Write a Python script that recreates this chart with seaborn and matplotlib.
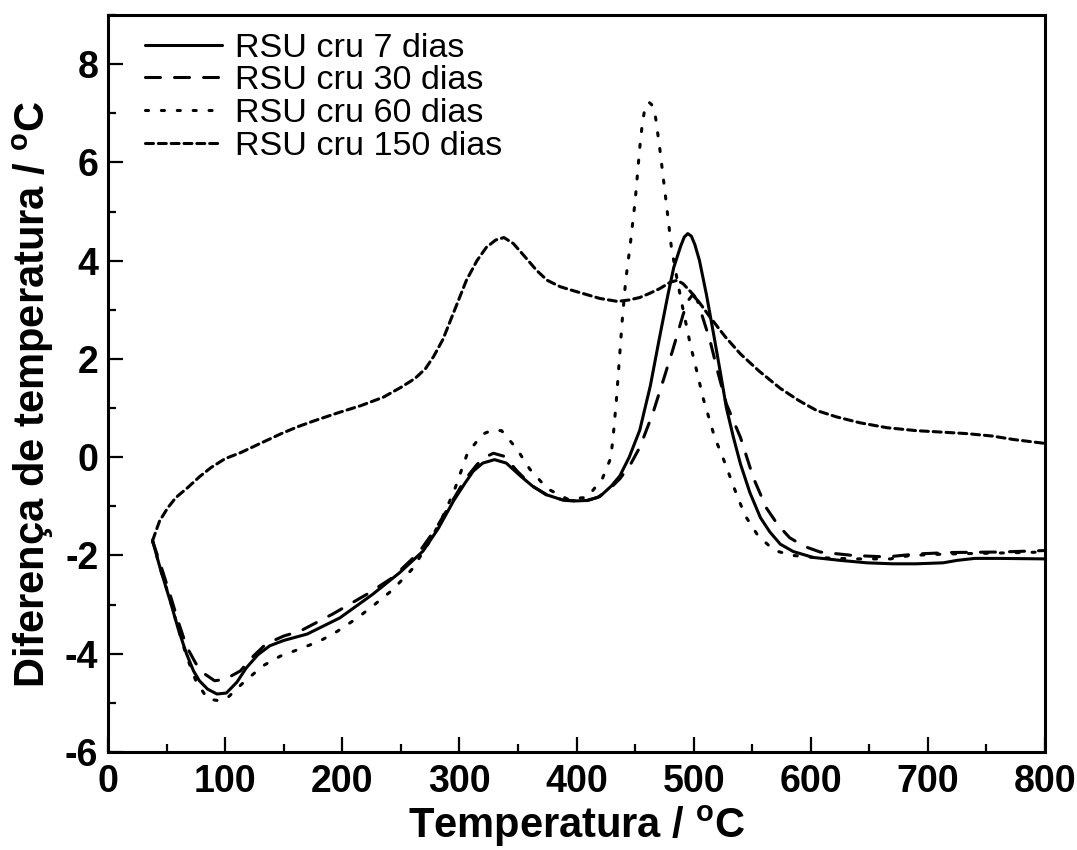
import numpy as np
import pandas as pd
import matplotlib
matplotlib.use("Agg")
import matplotlib.pyplot as plt
import seaborn as sns
from matplotlib.ticker import MultipleLocator

series_names = ["RSU cru 7 dias", "RSU cru 30 dias", "RSU cru 60 dias", "RSU cru 150 dias"]

x7 = [38, 45, 53, 60, 67, 73, 78, 85, 93, 101, 110, 118, 128, 138, 150, 170, 198, 226, 249, 269,
      282, 295, 305, 312, 320, 330, 340, 352, 363, 375, 388, 400, 410, 420, 430, 437, 445, 454,
      463, 471, 478, 483, 489, 492, 495, 498, 501, 505, 511, 517, 523, 528, 534, 540, 548, 557,
      565, 574, 585, 602, 625, 648, 670, 690, 713, 725, 740, 760, 800]
y7 = [-1.7, -2.3, -2.92, -3.5, -4.0, -4.35, -4.55, -4.72, -4.82, -4.8, -4.58, -4.29, -4.02, -3.84,
      -3.73, -3.6, -3.27, -2.79, -2.35, -1.91, -1.45, -0.89, -0.52, -0.28, -0.12, -0.05, -0.12,
      -0.38, -0.6, -0.77, -0.87, -0.89, -0.88, -0.8, -0.58, -0.38, 0.0, 0.55, 1.45, 2.45, 3.3,
      3.86, 4.3, 4.48, 4.55, 4.5, 4.33, 4.0, 3.3, 2.51, 1.7, 1.0, 0.4, -0.14, -0.72, -1.23,
      -1.52, -1.77, -1.92, -2.04, -2.1, -2.15, -2.17, -2.17, -2.15, -2.1, -2.06, -2.06, -2.07]

x30 = [38, 45, 53, 60, 67, 75, 83, 91, 100, 113, 124, 135, 150, 164, 192, 221, 243, 265, 280,
       295, 305, 315, 322, 329, 338, 350, 362, 375, 390, 405, 418, 428, 437, 446, 454, 465, 474,
       482, 491, 495, 499, 503, 507, 514, 521, 528, 540, 551, 562, 572, 582, 595, 608, 636, 665,
       690, 719, 762, 800]
y30 = [-1.7, -2.2, -2.8, -3.35, -3.85, -4.2, -4.42, -4.55, -4.52, -4.35, -4.05, -3.8, -3.64,
       -3.54, -3.19, -2.79, -2.45, -1.95, -1.45, -0.85, -0.45, -0.15, 0.0, 0.08, 0.02, -0.3,
       -0.58, -0.78, -0.88, -0.9, -0.82, -0.65, -0.44, -0.15, 0.2, 0.88, 1.56, 2.17, 2.9, 3.18,
       3.3, 3.2, 2.9, 2.37, 1.7, 1.08, 0.4, -0.42, -1.03, -1.38, -1.64, -1.82, -1.93, -2.0,
       -2.03, -1.97, -1.94, -1.93, -1.9]

x60 = [38, 45, 53, 60, 67, 75, 85, 93, 101, 115, 132, 147, 164, 181, 196, 213, 226, 243, 260,
       275, 285, 295, 307, 320, 328, 336, 349, 360, 375, 392, 409, 422, 429, 431, 434, 436.5,
       439, 442, 446, 450, 454, 456, 458, 460, 462, 464, 467, 471, 477, 481, 486, 490, 497, 504,
       508, 518, 525, 537, 544, 555, 569, 585, 602, 636, 668, 685, 716, 762, 800]
y60 = [-1.7, -2.3, -2.9, -3.5, -4.05, -4.55, -4.92, -4.95, -4.92, -4.6, -4.25, -4.05, -3.9,
       -3.74, -3.54, -3.27, -3.03, -2.7, -2.27, -1.7, -1.25, -0.72, 0.09, 0.47, 0.55, 0.54, 0.17,
       -0.24, -0.64, -0.85, -0.82, -0.44, -0.03, 0.34, 1.15, 1.96, 2.78, 3.6, 4.35, 5.2, 6.3,
       6.75, 7.05, 7.2, 7.22, 7.18, 7.0, 6.3, 5.1, 4.27, 3.6, 3.12, 2.31, 1.62, 1.21, 0.4, -0.01,
       -0.78, -1.19, -1.6, -1.9, -2.0, -2.04, -2.07, -2.07, -2.0, -1.97, -1.95, -1.93]

x150 = [38, 44, 51, 58, 68, 78, 88, 100, 113, 130, 148, 162, 176, 196, 216, 235, 250, 262, 271,
        278, 286, 296, 306, 315, 323, 331, 338, 346, 357, 366, 375, 386, 397, 410, 420, 435, 445,
        454, 462, 471, 480, 486, 491, 500, 507, 514, 527, 540, 556, 574, 590, 605, 622, 642, 665,
        690, 712, 733, 755, 773, 800]
y150 = [-1.7, -1.3, -1.03, -0.82, -0.62, -0.4, -0.21, -0.03, 0.09, 0.28, 0.48, 0.62, 0.74, 0.9,
        1.05, 1.22, 1.42, 1.6, 1.8, 2.05, 2.4, 3.0, 3.6, 4.0, 4.27, 4.42, 4.47, 4.35, 4.05, 3.8,
        3.6, 3.47, 3.39, 3.3, 3.23, 3.17, 3.2, 3.25, 3.33, 3.43, 3.56, 3.6, 3.53, 3.3, 3.08, 2.85,
        2.45, 2.1, 1.75, 1.4, 1.15, 0.95, 0.82, 0.7, 0.6, 0.54, 0.51, 0.48, 0.43, 0.36, 0.28]

xs_all = [x7, x30, x60, x150]
ys_all = [y7, y30, y60, y150]

frames = []
for name, xs, ys in zip(series_names, xs_all, ys_all):
    frames.append(pd.DataFrame({"T": xs, "dT": ys, "serie": name}))
df = pd.concat(frames, ignore_index=True)

dash_map = {
    "RSU cru 7 dias": "",
    "RSU cru 30 dias": (4.9, 4.6),
    "RSU cru 60 dias": (1.0, 4.2),
    "RSU cru 150 dias": (2.6, 1.6),
}

sns.set_style("ticks")
plt.rcParams["font.family"] = ["Liberation Sans", "DejaVu Sans"]
plt.rcParams["mathtext.fontset"] = "custom"
plt.rcParams["mathtext.rm"] = "Liberation Sans"
plt.rcParams["mathtext.bf"] = "Liberation Sans:bold"
plt.rcParams["mathtext.it"] = "Liberation Sans:italic"
plt.rcParams["axes.unicode_minus"] = False
for key in ["text.color", "axes.labelcolor", "xtick.color", "ytick.color", "axes.edgecolor"]:
    plt.rcParams[key] = "black"

LW = 2.2
fig = plt.figure(figsize=(10.77, 8.5), dpi=100)
ax = fig.add_axes([0.1003, 0.1153, 0.8700, 0.8671])

sns.lineplot(data=df, x="T", y="dT", style="serie", style_order=series_names,
             dashes=dash_map, color="black", linewidth=LW, estimator=None,
             sort=False, ax=ax, legend=True)

for line in ax.get_lines():
    line.set_dash_capstyle("round")

ax.set_xlim(0, 800)
ax.set_ylim(-6, 9)
ax.xaxis.set_major_locator(MultipleLocator(100))
ax.xaxis.set_minor_locator(MultipleLocator(50))
ax.yaxis.set_major_locator(MultipleLocator(2))
ax.yaxis.set_minor_locator(MultipleLocator(1))
ax.tick_params(which="both", direction="in", top=False, right=False, width=1.6, colors="black")
ax.tick_params(which="major", length=11, labelsize=27)
ax.tick_params(axis="y", which="major", pad=7)
ax.tick_params(axis="x", which="major", pad=9)
ax.tick_params(which="minor", length=5.5)
for lab in ax.get_xticklabels() + ax.get_yticklabels():
    lab.set_fontweight("bold")
for sp in ax.spines.values():
    sp.set_linewidth(2.2)
    sp.set_color("black")
    sp.set_visible(True)

ax.set_xlabel(r"Temperatura / $^{\mathbf{o}}$C", fontsize=30, fontweight="bold")
ax.set_ylabel(r"Diferença de temperatura / $^{\mathbf{o}}$C", fontsize=30, fontweight="bold")
ax.xaxis.set_label_coords(0.5, -0.070)
ax.yaxis.set_label_coords(-0.056, 0.485)

old = ax.get_legend()
handles = list(old.legend_handles)
labels = [t.get_text() for t in old.texts]
old.remove()
for h in handles:
    h.set_color("black")
    h.set_linewidth(LW)
    h.set_dash_capstyle("round")
ax.legend(handles, labels, loc="upper left", bbox_to_anchor=(0.0395, 0.976),
          frameon=False, fontsize=24.6, handlelength=2.25, handletextpad=0.37,
          labelspacing=0.05, borderpad=0, borderaxespad=0)

fig.savefig("out.png", dpi=100)
